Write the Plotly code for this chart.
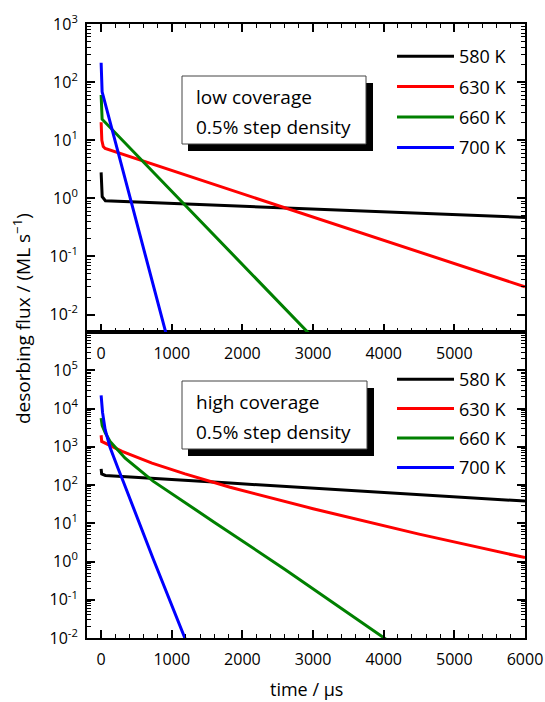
import plotly.graph_objects as go

# ---------------- data (time in µs, flux in ML/s) ----------------
temps = ["580 K", "630 K", "660 K", "700 K"]
colors = ["#000000", "#ff0000", "#008000", "#0000ff"]

# low coverage panel
low_t580 = [0, 5, 15, 60, 6000]
low_f580 = [2.8, 1.6, 1.07, 0.91, 0.47]
low_t630 = [0, 10, 30, 57, 6000]
low_f630 = [20.4, 10.0, 7.8, 7.2, 0.030]
low_t660 = [0, 8, 14, 3000]
low_f660 = [60, 35, 23, 0.004]
low_t700 = [0, 5, 14, 950]
low_f700 = [215, 112, 68, 0.0034]

# high coverage panel
high_t580 = [0, 8, 60, 1000, 1825, 6000]
high_f580 = [263, 195, 178, 141, 112, 38]
high_t630 = [0, 8, 297, 720, 1188, 1825, 3000, 4500, 6000]
high_f630 = [2000, 1380, 760, 372, 195, 87, 24, 5.2, 1.26]
high_t660 = [0, 15, 60, 127, 340, 735, 1600, 2603, 4100]
high_f660 = [5600, 3550, 2290, 1380, 500, 126, 10.7, 0.62, 0.0076]
high_t700 = [0, 20, 57, 127, 240, 316, 735, 1250]
high_f700 = [21900, 7900, 2800, 955, 270, 120, 1.2, 0.005]

low_series = [(low_t580, low_f580), (low_t630, low_f630), (low_t660, low_f660), (low_t700, low_f700)]
high_series = [(high_t580, high_f580), (high_t630, high_f630), (high_t660, high_f660), (high_t700, high_f700)]

x_major = [0, 1000, 2000, 3000, 4000, 5000, 6000]
top_decades = [-2, -1, 0, 1, 2, 3]
bot_decades = [-2, -1, 0, 1, 2, 3, 4, 5]
box_top = ["low coverage", "0.5% step density"]
box_bot = ["high coverage", "0.5% step density"]

FONT = "Open Sans"

# ---------------- figure ----------------
W, H = 545, 702
L, R, T, B = 87, 20, 24, 64
PW, PH = W - L - R, H - T - B
split = 306 / PH


def px(x):
    return (x - L) / PW


def py(y):
    return (H - B - y) / PH


fig = go.Figure()

for i, (t, f) in enumerate(low_series):
    fig.add_trace(go.Scatter(x=t, y=f, mode="lines", name=temps[i],
                             line=dict(color=colors[i], width=3),
                             xaxis="x2", yaxis="y2", legend="legend2",
                             legendgroup="t%d" % i))
for i, (t, f) in enumerate(high_series):
    fig.add_trace(go.Scatter(x=t, y=f, mode="lines", name=temps[i],
                             line=dict(color=colors[i], width=3),
                             xaxis="x", yaxis="y", legend="legend",
                             legendgroup="b%d" % i))


def minor_vals(decs):
    out = []
    for d in decs:
        for m in range(2, 10):
            out.append(m * 10.0 ** d)
    return out


def yaxis_cfg(decs, rng, domain, anchor):
    return dict(type="log", range=rng, domain=domain, anchor=anchor,
                tickvals=[10.0 ** d for d in decs],
                ticktext=["10<sup>%d</sup>" % d for d in decs],
                ticks="inside", ticklen=8, tickwidth=1.5, tickcolor="black",
                minor=dict(tickvals=minor_vals(decs), ticks="inside", ticklen=4,
                           tickwidth=1, tickcolor="black"),
                showline=True, linecolor="black", linewidth=2, mirror="ticks",
                showgrid=False, zeroline=False, automargin=False,
                tickfont=dict(family=FONT, size=16, color="black"),
                ticklabelstandoff=4)


def xaxis_cfg(labels, anchor, mirror):
    return dict(range=[-200, 6000], anchor=anchor, domain=[0, 1],
                tickvals=labels, ticks="inside", ticklen=8, tickwidth=1.5,
                tickcolor="black",
                minor=dict(dtick=200, tick0=0, ticks="inside", ticklen=4,
                           tickwidth=1, tickcolor="black"),
                showline=True, linecolor="black", linewidth=2, mirror=mirror,
                showgrid=False, zeroline=False, automargin=False,
                tickfont=dict(family=FONT, size=16, color="black"),
                ticklabelstandoff=6)


fig.update_layout(
    width=W, height=H, margin=dict(l=L, r=R, t=T, b=B, autoexpand=False),
    paper_bgcolor="white", plot_bgcolor="white",
    font=dict(family=FONT, color="black"),
    xaxis=xaxis_cfg(x_major, "y", True),
    yaxis=yaxis_cfg(bot_decades, [-2, 6], [0, split], "x"),
    xaxis2=xaxis_cfg(x_major[:-1], "y2", "ticks"),
    yaxis2=yaxis_cfg(top_decades, [-2.3, 3], [split, 1], "x2"),
    legend=dict(x=px(392), y=py(361), xanchor="left", yanchor="top",
                bgcolor="rgba(0,0,0,0)", itemwidth=57, tracegroupgap=3,
                font=dict(family=FONT, size=18, color="black")),
    legend2=dict(x=px(392), y=py(38), xanchor="left", yanchor="top",
                 bgcolor="rgba(0,0,0,0)", itemwidth=57, tracegroupgap=4,
                 font=dict(family=FONT, size=18, color="black")),
    showlegend=True,
)

# text boxes with drop shadow
for (x0, y0, x1, y1, lines) in [(182, 76, 366, 144, box_top), (182, 381, 367, 449, box_bot)]:
    fig.add_shape(type="rect", xref="paper", yref="paper",
                  x0=px(x0 + 6), x1=px(x1 + 7), y0=py(y0 + 7), y1=py(y1 + 7),
                  fillcolor="black", line=dict(width=0), layer="above")
    fig.add_shape(type="rect", xref="paper", yref="paper",
                  x0=px(x0), x1=px(x1), y0=py(y0), y1=py(y1),
                  fillcolor="white", line=dict(color="#444", width=1), layer="above")
    for k, txt in enumerate(lines):
        fig.add_annotation(text=txt, xref="paper", yref="paper",
                           x=px(x0 + 12), y=py(y0 + 21 + 30 * k),
                           xanchor="left", yanchor="middle", showarrow=False,
                           font=dict(family=FONT, size=19, color="black"))

# axis titles
fig.add_annotation(text="time / µs", xref="paper", yref="paper",
                   x=0.5, y=py(689), xanchor="center", yanchor="middle",
                   showarrow=False, font=dict(family=FONT, size=18, color="black"))
fig.add_annotation(text="desorbing flux / (ML s<sup>−1</sup>)", xref="paper", yref="paper",
                   x=px(22), y=py(319), xanchor="center", yanchor="middle",
                   textangle=-90, showarrow=False,
                   font=dict(family=FONT, size=19, color="black"))

fig.write_html("out.html")
